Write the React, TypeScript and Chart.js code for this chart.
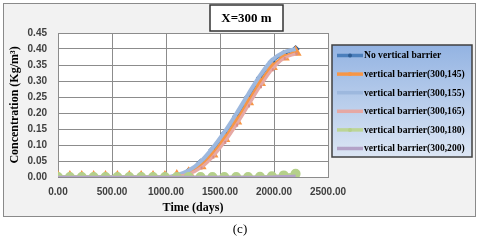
import React, { useEffect, useRef } from "react";
import { Chart, registerables } from "chart.js";

Chart.register(...registerables);

const days = [0, 110, 220, 330, 440, 550, 660, 770, 880, 990, 1100, 1210, 1320, 1430, 1540, 1650, 1760, 1870, 1980, 2090, 2200];

const noBarrier = [0, 0, 0, 0, 0, 0, 0, 0, 0, 0, 0.005, 0.018, 0.045, 0.085, 0.135, 0.19, 0.25, 0.31, 0.36, 0.385, 0.4];
const barrier145 = [0, 0, 0, 0, 0, 0, 0, 0, 0, 0, 0.003, 0.012, 0.035, 0.072, 0.12, 0.175, 0.235, 0.295, 0.345, 0.375, 0.39];
const barrier155 = [0, 0, 0, 0, 0, 0, 0, 0, 0, 0, 0.006, 0.02, 0.048, 0.09, 0.14, 0.197, 0.258, 0.317, 0.365, 0.39, 0.4];
const barrier165 = [0, 0, 0, 0, 0, 0, 0, 0, 0, 0, 0.002, 0.009, 0.028, 0.062, 0.108, 0.162, 0.222, 0.282, 0.335, 0.37, 0.385];
const barrier180 = [0, 0, 0, 0, 0, 0, 0, 0, 0, 0, 0, 0, 0, 0, 0, 0, 0, 0.001, 0.002, 0.005, 0.01];
const barrier200 = [0, 0, 0, 0, 0, 0, 0, 0, 0, 0, 0, 0, 0, 0, 0, 0, 0, 0, 0.001, 0.002, 0.004];

const seriesLabels = [
  "No vertical barrier",
  "vertical barrier(300,145)",
  "vertical barrier(300,155)",
  "vertical barrier(300,165)",
  "vertical barrier(300,180)",
  "vertical barrier(300,200)",
];

const titleText = "X=300 m";
const xTitle = "Time (days)";
const yTitle = "Concentration (Kg/m³)";
const caption = "(c)";

const SERIF = "'Liberation Serif', 'Times New Roman', serif";
const SANS = "'Liberation Sans', Arial, sans-serif";

function toPoints(vals: number[]) {
  return vals.map((v, i) => ({ x: days[i], y: v }));
}

export default function App() {
  const ref = useRef<HTMLCanvasElement | null>(null);

  useEffect(() => {
    const canvas = ref.current;
    if (!canvas) return;

    const decor = {
      id: "decor",
      beforeDraw(chart: any) {
        const ctx = chart.ctx;
        const ca = chart.chartArea;
        ctx.save();
        ctx.fillStyle = "#ffffff";
        ctx.fillRect(0, 0, chart.width, chart.height);
        ctx.fillStyle = "#f2f2f2";
        ctx.fillRect(3, 3, 472, 213);
        ctx.strokeStyle = "#8a8a8a";
        ctx.lineWidth = 1;
        ctx.strokeRect(3.5, 3.5, 472, 213);
        ctx.fillStyle = "#ffffff";
        ctx.fillRect(ca.left, ca.top, ca.right - ca.left, ca.bottom - ca.top);
        ctx.restore();
      },
      afterDraw(chart: any) {
        const ctx = chart.ctx;
        ctx.save();
        // title box
        ctx.fillStyle = "#ffffff";
        ctx.fillRect(210, 5, 73, 26);
        ctx.strokeStyle = "#333333";
        ctx.lineWidth = 1.5;
        ctx.strokeRect(210, 5, 73, 26);
        ctx.fillStyle = "#000000";
        ctx.font = "bold 13px " + SERIF;
        ctx.textAlign = "center";
        ctx.textBaseline = "middle";
        ctx.fillText(titleText, 246.5, 18.5);

        // legend box
        const lx = 332, ly = 45, lw = 140, lh = 112;
        const g = ctx.createLinearGradient(0, ly, 0, ly + lh);
        g.addColorStop(0, "#93b3e2");
        g.addColorStop(1, "#dce6f4");
        ctx.fillStyle = g;
        ctx.fillRect(lx, ly, lw, lh);
        ctx.strokeStyle = "#404040";
        ctx.lineWidth = 1.5;
        ctx.strokeRect(lx, ly, lw, lh);
        ctx.textAlign = "left";
        ctx.font = "bold 9.6px " + SERIF;
        chart.data.datasets.forEach((ds: any, i: number) => {
          const y = 55.5 + i * 18.6;
          ctx.strokeStyle = ds.borderColor;
          ctx.lineWidth = 3.5;
          ctx.beginPath();
          ctx.moveTo(337, y);
          ctx.lineTo(363, y);
          ctx.stroke();
          if (ds.legendMarker) {
            ctx.fillStyle = ds.pointBackgroundColor;
            ctx.beginPath();
            ctx.arc(350, y, 2, 0, Math.PI * 2);
            ctx.fill();
          }
          ctx.fillStyle = "#000000";
          ctx.fillText(ds.label, 364, y + 0.5);
        });

        // caption
        ctx.font = "13px " + SERIF;
        ctx.textAlign = "center";
        ctx.fillStyle = "#000000";
        ctx.fillText(caption, 240, 230);
        ctx.restore();
      },
    };

    const chart = new Chart(canvas, {
      type: "line",
      data: {
        datasets: [
          {
            label: seriesLabels[0],
            data: toPoints(noBarrier),
            borderColor: "#4a7ebb",
            backgroundColor: "#2c5c94",
            pointBackgroundColor: "#2c5c94",
            pointBorderColor: "#2c5c94",
            pointStyle: "rectRot",
            pointRadius: 2,
            borderWidth: 3,
            order: 6,
            legendMarker: true,
          } as any,
          {
            label: seriesLabels[1],
            data: toPoints(barrier145),
            borderColor: "#f79646",
            backgroundColor: "#f79646",
            pointBackgroundColor: "#f79646",
            pointBorderColor: "#f79646",
            pointStyle: "triangle",
            pointRadius: 4,
            borderWidth: 3,
            order: 5,
            legendMarker: true,
          } as any,
          {
            label: seriesLabels[2],
            data: toPoints(barrier155),
            borderColor: "#9db8de",
            backgroundColor: "#9db8de",
            pointRadius: 0,
            borderWidth: 4,
            order: 4,
          } as any,
          {
            label: seriesLabels[3],
            data: toPoints(barrier165),
            borderColor: "#e6a8a4",
            backgroundColor: "#d98c87",
            pointBackgroundColor: "#d98c87",
            pointBorderColor: "#d98c87",
            pointStyle: "dash",
            pointRadius: 2,
            borderWidth: 3,
            order: 3,
          } as any,
          {
            label: seriesLabels[4],
            data: toPoints(barrier180),
            borderColor: "#bcd596",
            backgroundColor: "#b5d08a",
            pointBackgroundColor: "#b5d08a",
            pointBorderColor: "#b5d08a",
            pointStyle: "circle",
            pointRadius: 3.5,
            borderWidth: 3,
            order: 2,
            legendMarker: true,
          } as any,
          {
            label: seriesLabels[5],
            data: toPoints(barrier200),
            borderColor: "#b3a2c7",
            backgroundColor: "#b3a2c7",
            pointRadius: 0,
            borderWidth: 2.5,
            order: 1,
          } as any,
        ],
      },
      options: {
        responsive: false,
        animation: false,
        cubicInterpolationMode: "monotone",
        layout: { padding: { left: 4, top: 33, right: 152, bottom: 25 } },
        plugins: {
          legend: { display: false },
          title: { display: false },
          tooltip: { enabled: false },
        },
        scales: {
          x: {
            type: "linear",
            min: 0,
            max: 2500,
            ticks: {
              stepSize: 500,
              padding: 9,
              color: "#404040",
              font: { family: SANS, size: 10, weight: "bold" },
              callback: (v: any) => Number(v).toFixed(2),
              maxRotation: 0,
            },
            grid: { color: "#8c8c8c", lineWidth: 1, drawTicks: false },
            border: { color: "#8c8c8c" },
            title: {
              display: true,
              text: xTitle,
              color: "#000000",
              font: { family: SERIF, size: 12, weight: "bold" },
              padding: { top: 0, bottom: 0 },
            },
            afterFit: (s: any) => {
              s.height = 38;
            },
          },
          y: {
            min: 0,
            max: 0.45,
            ticks: {
              stepSize: 0.05,
              padding: 11,
              color: "#404040",
              font: { family: SANS, size: 10, weight: "bold" },
              callback: (v: any) => Number(v).toFixed(2),
            },
            grid: { color: "#8c8c8c", lineWidth: 1, drawTicks: false },
            border: { color: "#8c8c8c" },
            title: {
              display: true,
              text: yTitle,
              color: "#000000",
              font: { family: SERIF, size: 12, weight: "bold" },
              padding: { top: 4, bottom: 0 },
            },
            afterFit: (s: any) => {
              s.width = 54;
            },
          },
        },
      } as any,
      plugins: [decor],
    });

    return () => chart.destroy();
  }, []);

  return (
    <div style={{ position: "absolute", left: 0, top: 0, width: 480, height: 240 }}>
      <canvas ref={ref} width={480} height={240} />
    </div>
  );
}
